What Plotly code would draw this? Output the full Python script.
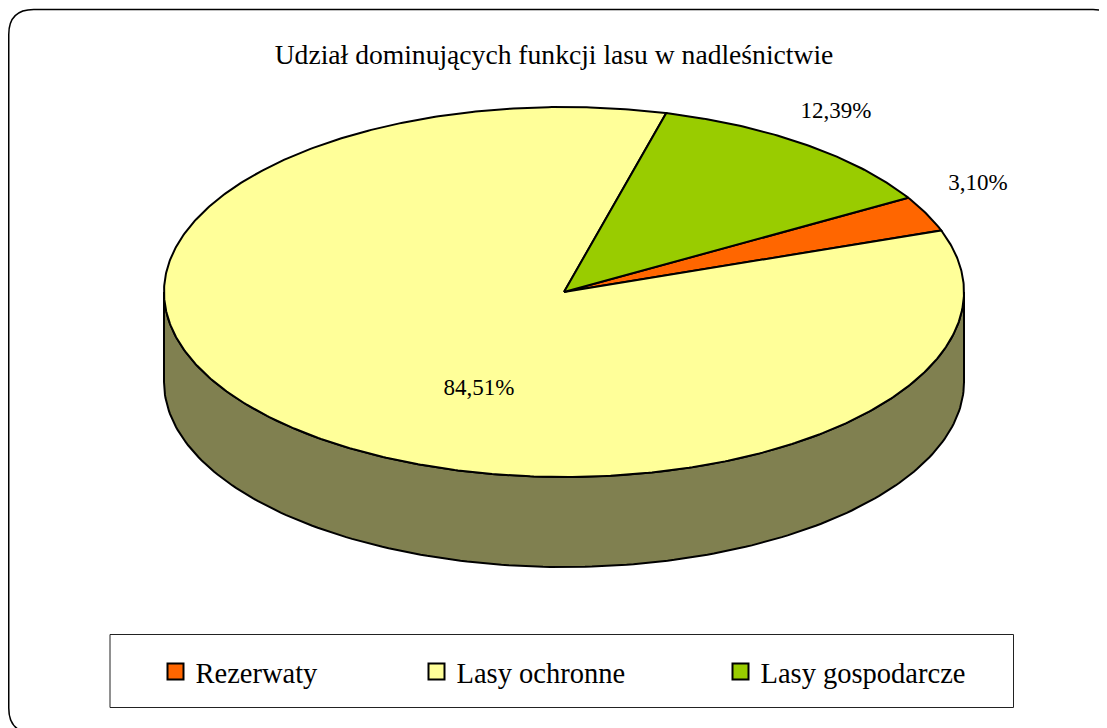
import numpy as np
import plotly.graph_objects as go

TITLE = "Udział dominujących funkcji lasu w nadleśnictwie"
categories = ["Rezerwaty", "Lasy ochronne", "Lasy gospodarcze"]
shares = [3.10, 84.51, 12.39]
colors = ["#FF6600", "#FFFF99", "#99CC00"]
side_color = "#808050"

W, H = 1107, 728
M = 8  # the page's own margin; the figure sits this far in from the window edge
CX, CY, RX, RY, DEPTH = 564, 292, 400, 185, 90
START = 59.4  # degrees clockwise from the top of the ellipse
label_pos = [(978, 184), (479, 389), (836, 112)]
legend_left = [155.5, 416.5, 720.5]


def px(theta, dy=0.0):
    t = np.radians(theta)
    return CX + RX * np.sin(t), CY - RY * np.cos(t) + dy


fig = go.Figure()

# side wall: front half of the disc
t = np.linspace(90, 270, 181)
xt, yt = px(t)
xb, yb = px(t[::-1], DEPTH)
fig.add_trace(go.Scatter(
    x=np.r_[xt, xb, xt[0]], y=np.r_[yt, yb, yt[0]], mode="lines", fill="toself",
    fillcolor=side_color, line=dict(color="black", width=2),
    showlegend=False, hoverinfo="skip"))

# top slices
edges = START + np.r_[0, np.cumsum(shares)] * 3.6
for name, c, a, b in zip(categories, colors, edges[:-1], edges[1:]):
    t = np.linspace(a, b, max(int(b - a) * 2, 8))
    x, y = px(t)
    fig.add_trace(go.Scatter(
        x=np.r_[CX, x, CX], y=np.r_[CY, y, CY], mode="lines", fill="toself",
        fillcolor=c, line=dict(color="black", width=2), name=name,
        showlegend=False, hoverinfo="skip"))

# data labels
fig.add_trace(go.Scatter(
    x=[p[0] for p in label_pos], y=[p[1] for p in label_pos], mode="text",
    text=[f"{v:.2f}%".replace(".", ",") for v in shares],
    textposition="middle center",
    textfont=dict(family="Liberation Serif", size=23, color="black"),
    showlegend=False, hoverinfo="skip"))

# legend entries, one native legend per entry so their spacing can follow the original
layout_legends = {}
for i, (name, c, lx) in enumerate(zip(categories, colors, legend_left)):
    key = "legend" if i == 0 else f"legend{i + 1}"
    fig.add_trace(go.Scatter(
        x=[None], y=[None], mode="markers", name=name, legend=key,
        marker=dict(symbol="square", size=16, color=c, line=dict(color="black", width=2)),
        showlegend=True))
    layout_legends[key] = dict(
        x=(lx - M) / (W - M), y=1 - (672 - M) / (H - M), xanchor="left", yanchor="middle",
        bgcolor="rgba(0,0,0,0)", borderwidth=0,
        font=dict(family="Liberation Serif", size=28.5, color="black"))

r = 25
l, tp, rt, bt = 8.75, 9.5, 1118, 733
frame = (f"M {l + r},{tp} L {rt - r},{tp} Q {rt},{tp} {rt},{tp + r} L {rt},{bt - r} "
         f"Q {rt},{bt} {rt - r},{bt} L {l + r},{bt} Q {l},{bt} {l},{bt - r} "
         f"L {l},{tp + r} Q {l},{tp} {l + r},{tp} Z")

fig.update_layout(
    width=W - M, height=H - M, margin=dict(l=0, r=0, t=0, b=0, pad=0),
    paper_bgcolor="white", plot_bgcolor="white", autosize=False,
    xaxis=dict(range=[M, W], visible=False, fixedrange=True),
    yaxis=dict(range=[H, M], visible=False, fixedrange=True),
    title=dict(text=TITLE, x=(554 - M) / (W - M), xanchor="center",
               y=1 - (54 - M) / (H - M), yanchor="middle",
               font=dict(family="Liberation Serif", size=27.6, color="black")),
    shapes=[
        dict(type="path", path=frame, xref="x", yref="y", line=dict(color="black", width=1.5),
             layer="below"),
        dict(type="rect", x0=110, x1=1013.5, y0=634.5, y1=707.5, xref="x", yref="y",
             line=dict(color="#222222", width=1), layer="below"),
    ],
    **layout_legends,
)
fig.write_html("out.html")
